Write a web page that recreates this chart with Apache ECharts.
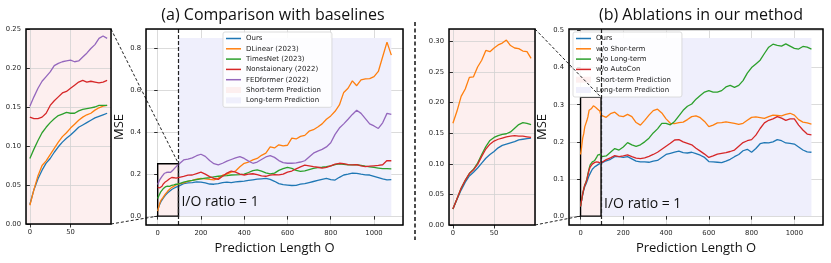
<!DOCTYPE html>
<html><head><meta charset="utf-8">
<script src="https://cdn.jsdelivr.net/npm/echarts@6/dist/echarts.min.js"></script>
<style>html,body{margin:0;padding:0;background:#fff}#c{width:831px;height:263px}</style>
</head><body><div id="c"></div>
<script>
// ---------- x positions ----------
const shortX = [0,5,10,15,20,25,30,35,40,45,50,55,60,65,70,75,80,85,90,95];
const longX = [100,120,140,160,180,200,220,240,260,280,300,320,340,360,380,400,420,440,460,480,
  500,520,540,560,580,600,620,640,660,680,700,720,740,760,780,800,820,840,860,880,
  900,920,940,960,980,1000,1020,1040,1060,1080];

// ---------- (a) Comparison with baselines ----------
const aNames = ['Ours','DLinear (2023)','TimesNet (2023)','Nonstaionary (2022)','FEDformer (2022)'];
const aOursShort = [0.025,0.044,0.058,0.069,0.078,0.084,0.092,0.099,0.105,0.110,0.114,0.119,0.124,0.127,0.130,0.133,0.136,0.138,0.140,0.142];
const aOursLong = [0.150,0.155,0.158,0.160,0.163,0.162,0.158,0.153,0.152,0.155,0.160,0.162,0.160,0.163,0.165,0.167,0.170,0.173,0.176,0.178,
  0.180,0.175,0.166,0.155,0.150,0.148,0.146,0.147,0.152,0.155,0.160,0.165,0.170,0.175,0.180,0.174,0.172,0.185,0.196,0.200,
  0.205,0.204,0.200,0.197,0.196,0.190,0.184,0.178,0.173,0.174];
const aDLinearShort = [0.024,0.044,0.062,0.075,0.081,0.089,0.097,0.105,0.112,0.117,0.123,0.128,0.133,0.137,0.140,0.142,0.146,0.149,0.151,0.152];
const aDLinearLong = [0.150,0.158,0.166,0.170,0.176,0.180,0.178,0.175,0.173,0.180,0.195,0.200,0.210,0.215,0.235,0.252,0.258,0.268,0.275,0.290,
  0.300,0.330,0.325,0.340,0.335,0.338,0.372,0.368,0.380,0.385,0.405,0.412,0.425,0.440,0.462,0.478,0.500,0.530,0.590,0.610,
  0.645,0.622,0.650,0.655,0.656,0.665,0.690,0.760,0.830,0.768];
const aTimesNetShort = [0.084,0.096,0.107,0.117,0.124,0.130,0.135,0.139,0.141,0.143,0.142,0.142,0.145,0.147,0.148,0.149,0.150,0.152,0.152,0.152];
const aTimesNetLong = [0.157,0.162,0.167,0.170,0.174,0.178,0.181,0.183,0.187,0.190,0.192,0.193,0.196,0.197,0.198,0.200,0.208,0.217,0.220,0.214,
  0.206,0.201,0.205,0.218,0.226,0.232,0.228,0.218,0.213,0.216,0.222,0.228,0.231,0.233,0.236,0.240,0.246,0.249,0.247,0.245,
  0.244,0.245,0.242,0.238,0.235,0.232,0.229,0.226,0.226,0.225];
const aNonstatShort = [0.137,0.135,0.135,0.137,0.142,0.152,0.158,0.163,0.168,0.170,0.174,0.178,0.182,0.184,0.182,0.183,0.182,0.181,0.182,0.184];
const aNonstatLong = [0.186,0.190,0.195,0.196,0.203,0.210,0.200,0.188,0.180,0.175,0.190,0.205,0.215,0.210,0.200,0.196,0.200,0.202,0.198,0.192,
  0.190,0.195,0.198,0.197,0.200,0.210,0.215,0.225,0.235,0.243,0.240,0.236,0.233,0.229,0.232,0.240,0.248,0.252,0.250,0.246,
  0.244,0.246,0.240,0.236,0.238,0.240,0.242,0.245,0.265,0.264];
const aFEDShort = [0.151,0.163,0.174,0.183,0.189,0.195,0.203,0.206,0.208,0.209,0.210,0.208,0.209,0.214,0.219,0.225,0.230,0.238,0.241,0.238];
const aFEDLong = [0.250,0.268,0.272,0.278,0.288,0.295,0.285,0.265,0.250,0.244,0.252,0.262,0.270,0.278,0.284,0.275,0.262,0.252,0.258,0.270,
  0.282,0.288,0.280,0.265,0.255,0.252,0.252,0.254,0.258,0.264,0.282,0.300,0.310,0.318,0.330,0.350,0.390,0.420,0.440,0.462,
  0.485,0.505,0.490,0.465,0.440,0.430,0.418,0.445,0.490,0.485];

// ---------- (b) Ablations in our method ----------
const bNames = ['Ours','w/o Shor-term','w/o Long-term','w/o AutoCon'];
const bOursShort = [0.026,0.042,0.057,0.070,0.080,0.086,0.093,0.101,0.109,0.115,0.120,0.126,0.130,0.132,0.134,0.136,0.139,0.140,0.141,0.142];
const bOursLong = [0.144,0.149,0.153,0.160,0.160,0.158,0.160,0.154,0.148,0.146,0.146,0.145,0.148,0.150,0.158,0.166,0.169,0.172,0.175,0.171,
  0.170,0.172,0.168,0.164,0.158,0.147,0.146,0.145,0.144,0.148,0.153,0.160,0.166,0.176,0.180,0.172,0.182,0.195,0.198,0.197,
  0.200,0.206,0.203,0.197,0.196,0.194,0.186,0.178,0.173,0.172];
const bNoShortShort = [0.166,0.186,0.210,0.222,0.241,0.242,0.258,0.269,0.285,0.283,0.289,0.294,0.297,0.302,0.293,0.289,0.288,0.284,0.283,0.272];
const bNoShortLong = [0.268,0.266,0.276,0.280,0.270,0.268,0.274,0.268,0.252,0.245,0.258,0.272,0.284,0.288,0.278,0.262,0.250,0.249,0.252,0.253,
  0.260,0.268,0.270,0.265,0.255,0.241,0.245,0.251,0.252,0.254,0.252,0.250,0.247,0.250,0.258,0.266,0.267,0.265,0.263,0.268,
  0.272,0.271,0.270,0.274,0.277,0.272,0.260,0.253,0.251,0.248];
const bNoLongShort = [0.026,0.043,0.060,0.073,0.084,0.091,0.101,0.115,0.128,0.138,0.143,0.146,0.148,0.149,0.152,0.158,0.164,0.167,0.166,0.164];
const bNoLongLong = [0.160,0.162,0.172,0.182,0.178,0.186,0.198,0.192,0.188,0.192,0.200,0.210,0.224,0.235,0.250,0.250,0.246,0.255,0.270,0.285,
  0.296,0.302,0.315,0.325,0.334,0.338,0.334,0.334,0.338,0.348,0.352,0.347,0.352,0.365,0.385,0.400,0.410,0.420,0.438,0.455,
  0.463,0.460,0.458,0.464,0.458,0.452,0.450,0.457,0.455,0.450];
const bNoAutoShort = [0.026,0.043,0.060,0.073,0.084,0.090,0.099,0.112,0.124,0.132,0.137,0.140,0.142,0.144,0.145,0.146,0.145,0.145,0.144,0.143];
const bNoAutoLong = [0.145,0.152,0.157,0.163,0.160,0.162,0.165,0.160,0.156,0.155,0.157,0.161,0.166,0.172,0.180,0.188,0.196,0.205,0.206,0.200,
  0.196,0.192,0.183,0.175,0.167,0.158,0.162,0.167,0.169,0.171,0.174,0.178,0.188,0.198,0.203,0.206,0.218,0.236,0.251,0.258,
  0.262,0.268,0.264,0.258,0.262,0.262,0.245,0.232,0.221,0.219];

// ---------- regions ----------
const shortEnd = 96, longEnd = 1080;
const aBoxTop = 0.25, aLongTop = 0.85;
const bBoxTop = 0.32, bLongTop = 0.48;

const colors = ['#1f77b4','#ff7f0e','#2ca02c','#d62728','#9467bd'];
const PINK = 'rgb(253,239,239)';
const LAV = 'rgb(239,239,252)';
const LINEICON = 'path://M0,0h30v3h-30z';

const aSets = [[aOursShort,aOursLong],[aDLinearShort,aDLinearLong],[aTimesNetShort,aTimesNetLong],[aNonstatShort,aNonstatLong],[aFEDShort,aFEDLong]];
const bSets = [[bOursShort,bOursLong],[bNoShortShort,bNoShortLong],[bNoLongShort,bNoLongLong],[bNoAutoShort,bNoAutoLong]];

function pairs(xs, ys){ return xs.map((x,i)=>[x, ys[i]]); }
function full(s){ return pairs(shortX, s[0]).concat(pairs(longX, s[1])); }

const tickFont = {fontFamily:'DejaVu Sans', fontSize:6.8, color:'#262626', margin:5};
const nameFont = {fontFamily:'Open Sans', fontSize:13, color:'#111'};
const split = {show:true, lineStyle:{color:'#d2d2d2', width:0.8}};
const tick = {show:true, inside:false, length:3.5, lineStyle:{color:'#000', width:0.8}};

// axis extents
const insX = [-4.75, 99.75], mainX = [-54, 1134];
const insAY = [0, 0.25], mainAY = [-0.0425, 0.8925], insBY = [0, 0.32], mainBY = [-0.024, 0.504];

function xAx(grid, ext, name){
  return {type:'value', gridIndex:grid, min:ext[0], max:ext[1], axisLine:{show:false}, axisTick:tick,
    splitLine:split, axisLabel:Object.assign({showMinLabel:false, showMaxLabel:false, formatter:v=>String(v)}, tickFont),
    name:name||'', nameLocation:'middle', nameGap:16, nameTextStyle:nameFont, splitNumber: ext[1]>200?5:2};
}
function yAx(grid, ext, dec, name, sn, showMax){
  return {type:'value', gridIndex:grid, min:ext[0], max:ext[1], axisLine:{show:false}, axisTick:tick,
    splitLine:split, splitNumber:sn,
    axisLabel:Object.assign({showMinLabel: ext[0]===0, showMaxLabel:showMax, formatter:v=>v.toFixed(dec)}, tickFont),
    name:name||'', nameLocation:'middle', nameGap:20, nameRotate:90, nameTextStyle:nameFont};
}

const series = [];
function helper(ax, boxTop, longTop){
  series.push({type:'line', name:'Long-term Prediction', xAxisIndex:ax, yAxisIndex:ax, data:[], symbol:'none',
    color:LAV, itemStyle:{color:LAV}, lineStyle:{color:LAV}, silent:true, z:1,
    markArea:{silent:true, itemStyle:{color:LAV}, data:[[{coord:[shortEnd,0]},{coord:[longEnd,longTop]}]]}});
  series.push({type:'line', name:'Short-term Prediction', xAxisIndex:ax, yAxisIndex:ax, data:[], symbol:'none',
    color:PINK, itemStyle:{color:PINK}, lineStyle:{color:PINK}, silent:true, z:1,
    markArea:{silent:true, itemStyle:{color:PINK, borderColor:'#000', borderWidth:1.4}, data:[[{coord:[0,0]},{coord:[shortEnd,boxTop]}]]},
    markLine:{silent:true, symbol:'none', label:{show:false}, lineStyle:{color:'#222', width:1.2, type:[4,2]}, data:[{xAxis:shortEnd}]}});
}
helper(1, aBoxTop, aLongTop);
helper(3, bBoxTop, bLongTop);
const LW = 1.3;
aSets.forEach((s,i)=>{
  series.push({type:'line', name:aNames[i], xAxisIndex:0, yAxisIndex:0, data:pairs(shortX,s[0]), symbol:'none', color:colors[i], lineStyle:{width:LW}, z:3});
  series.push({type:'line', name:aNames[i], xAxisIndex:1, yAxisIndex:1, data:full(s), symbol:'none', color:colors[i], lineStyle:{width:LW}, z:3});
});
bSets.forEach((s,i)=>{
  series.push({type:'line', name:bNames[i], xAxisIndex:2, yAxisIndex:2, data:pairs(shortX,s[0]), symbol:'none', color:colors[i], lineStyle:{width:LW}, z:3});
  series.push({type:'line', name:bNames[i], xAxisIndex:3, yAxisIndex:3, data:full(s), symbol:'none', color:colors[i], lineStyle:{width:LW}, z:3});
});

function legend(left, names){
  const data = names.map(n=>({name:n, icon:LINEICON})).concat([{name:'Short-term Prediction', icon:'rect'},{name:'Long-term Prediction', icon:'rect'}]);
  return {left:left, top:32, orient:'vertical', itemWidth:15, itemHeight:6, itemGap:2.3, selectedMode:false,
    padding:[2.5,11,3,3], backgroundColor:'rgba(255,255,255,0.85)', borderColor:'#d4d4d4', borderWidth:0.8, borderRadius:2,
    itemStyle:{borderWidth:0}, textStyle:{fontFamily:'DejaVu Sans', fontSize:7, color:'#222', lineHeight:8}, data:data};
}

const chart = echarts.init(document.getElementById('c'), null, {renderer:'canvas'});
chart.setOption({
  animation:false,
  grid:[
    {left:26, top:29, width:85, height:195, show:true, backgroundColor:PINK, borderWidth:0},
    {left:146, top:29, width:257, height:196, show:false},
    {left:449, top:29, width:86, height:196, show:true, backgroundColor:PINK, borderWidth:0},
    {left:569, top:29, width:254, height:196, show:false}
  ],
  xAxis:[xAx(0,insX), xAx(1,mainX,'Prediction Length O'), xAx(2,insX), xAx(3,mainX,'Prediction Length O')],
  yAxis:[yAx(0,insAY,2,'',5,true), yAx(1,mainAY,1,'MSE',5,false), yAx(2,insBY,2,'',6,false), yAx(3,mainBY,1,'MSE',5,false)],
  legend:[legend(223, aNames), legend(573, bNames)],
  series:series
});

// decorations computed from the axes
const px = (i, v) => chart.convertToPixel({xAxisIndex:i, yAxisIndex:i}, v);
const dash = {stroke:'#222', lineWidth:1, lineDash:[3,2]};
function conn(a, b){ return {type:'line', silent:true, z:50, shape:{x1:a[0],y1:a[1],x2:b[0],y2:b[1]}, style:dash}; }
function frame(i, xe, ye){
  const p0 = px(i,[xe[0],ye[1]]), p1 = px(i,[xe[1],ye[0]]);
  return {type:'rect', silent:true, z:60, shape:{x:p0[0], y:p0[1], width:p1[0]-p0[0], height:p1[1]-p0[1]}, style:{fill:null, stroke:'#000', lineWidth:1.5}};
}
const ioA = px(1,[shortEnd,0.067]), ioB = px(3,[shortEnd,0.032]);
chart.setOption({graphic:[
  frame(0, insX, insAY), frame(1, mainX, mainAY), frame(2, insX, insBY), frame(3, mainX, mainBY),
  conn(px(0,[insX[1],insAY[1]]), px(1,[shortEnd,aBoxTop])),
  conn(px(0,[insX[1],0]), px(1,[0,0])),
  conn(px(2,[insX[1],insBY[1]]), px(3,[shortEnd,bBoxTop])),
  conn(px(2,[insX[1],0]), px(3,[0,0])),
  {type:'line', silent:true, shape:{x1:415,y1:22,x2:415,y2:240}, style:{stroke:'#111', lineWidth:1.5, lineDash:[4,2.5]}},
  {type:'text', silent:true, z:50, x:ioA[0]+3, y:ioA[1], style:{text:'I/O ratio = 1', font:'14px "Open Sans"', fill:'#111', verticalAlign:'middle'}},
  {type:'text', silent:true, z:50, x:ioB[0]+3, y:ioB[1], style:{text:'I/O ratio = 1', font:'14px "Open Sans"', fill:'#111', verticalAlign:'middle'}},
  {type:'text', silent:true, x:273, y:15, style:{text:'(a) Comparison with baselines', font:'16px "Open Sans"', fill:'#111', align:'center', verticalAlign:'middle'}},
  {type:'text', silent:true, x:701, y:15, style:{text:'(b) Ablations in our method', font:'16px "Open Sans"', fill:'#111', align:'center', verticalAlign:'middle'}}
]});
</script></body></html>
